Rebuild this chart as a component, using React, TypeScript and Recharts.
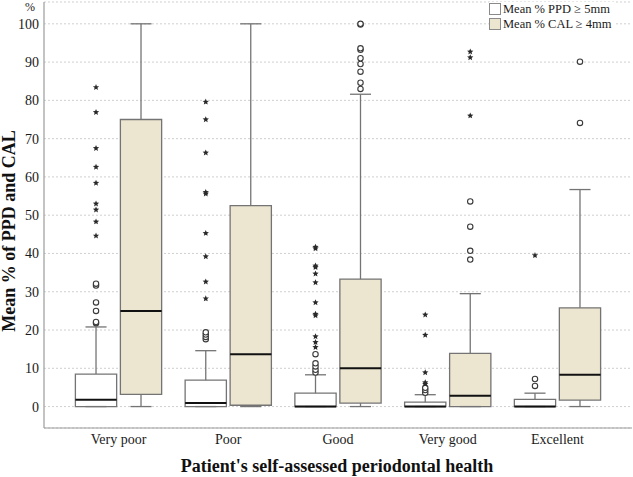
import {
  CartesianGrid,
  ComposedChart,
  ReferenceArea,
  ReferenceLine,
  Scatter,
  XAxis,
  YAxis,
} from "recharts";

const categories = ["Very poor", "Poor", "Good", "Very good", "Excellent"];
const yTicks = [0, 10, 20, 30, 40, 50, 60, 70, 80, 90, 100];

// Mean % PPD >= 5mm
const ppdMin = [0, 0, 0, 0, 0];
const ppdQ1 = [0, 0, 0, 0, 0];
const ppdMedian = [1.75, 0.9, 0, 0, 0];
const ppdQ3 = [8.5, 6.9, 3.5, 1.15, 1.9];
const ppdMax = [20.8, 14.6, 8.3, 3.1, 3.5];
const ppdCircles = [
  [21.8, 22.1, 25.0, 27.2, 31.6, 32.1],
  [17.6, 18.2, 18.8, 19.4],
  [8.9, 9.6, 10.5, 11.3, 13.7],
  [3.6, 4.3, 4.9],
  [5.4, 7.2],
];
const ppdStars = [
  [44.6, 48.3, 51.4, 53.0, 58.4, 62.6, 67.5, 76.9, 83.4],
  [28.2, 32.6, 39.2, 45.3, 55.6, 56.0, 66.3, 75.0, 79.6],
  [15.5, 16.8, 18.3, 23.8, 24.2, 27.2, 32.4, 34.7, 36.4, 36.8, 41.3, 41.7],
  [5.9, 6.3, 8.9, 18.7, 24.0],
  [39.5],
];

// Mean % CAL >= 4mm
const calMin = [0, 0, 0, 0, 0];
const calQ1 = [3.2, 0.35, 0.9, 0, 1.7];
const calMedian = [25.0, 13.7, 10.0, 2.8, 8.3];
const calQ3 = [75.0, 52.5, 33.3, 13.9, 25.8];
const calMax = [100, 100, 81.6, 29.5, 56.7];
const calCircles = [
  [],
  [],
  [83.0, 84.6, 87.5, 89.5, 91.0, 93.2, 93.6, 99.8, 100],
  [38.4, 40.7, 47.0, 53.6],
  [74.1, 90.1],
];
const calStars = [[], [], [], [76.0, 91.2, 92.7], []];

const SERIF = "'Liberation Serif', 'Times New Roman', serif";
const BEIGE = "#ece5cf";
const EDGE = "#747474";
const OFFSET = 0.205;
const HALF = 0.188;
const CAP = 0.096;

type Series = {
  offset: number;
  fill: string;
  min: number[];
  q1: number[];
  median: number[];
  q3: number[];
  max: number[];
};

const series: Series[] = [
  { offset: -OFFSET, fill: "#ffffff", min: ppdMin, q1: ppdQ1, median: ppdMedian, q3: ppdQ3, max: ppdMax },
  { offset: OFFSET, fill: BEIGE, min: calMin, q1: calQ1, median: calMedian, q3: calQ3, max: calMax },
];

const toPoints = (lists: number[][], offset: number) =>
  lists.flatMap((values, i) => values.map((y) => ({ x: i + offset, y })));

const circles = [...toPoints(ppdCircles, -OFFSET), ...toPoints(calCircles, OFFSET)];
const stars = [...toPoints(ppdStars, -OFFSET), ...toPoints(calStars, OFFSET)];

const Circle = (props: any) => (
  <circle cx={props.cx} cy={props.cy} r={2.7} fill="#fff" stroke="#3a3a3a" strokeWidth={1.1} />
);

const Star = (props: any) => {
  const { cx, cy } = props;
  const pts: string[] = [];
  for (let k = 0; k < 10; k++) {
    const r = k % 2 === 0 ? 3.3 : 1.5;
    const a = -Math.PI / 2 + (k * Math.PI) / 5;
    pts.push(`${cx + r * Math.cos(a)},${cy + r * Math.sin(a)}`);
  }
  return <polygon points={pts.join(" ")} fill="#2a2a2a" />;
};

export default function App() {
  return (
    <div style={{ position: "absolute", left: 0, top: 0, width: 633, height: 477, background: "#fff", fontFamily: SERIF }}>
      <ComposedChart width={633} height={477} margin={{ top: 2, right: 1, bottom: 0, left: 0 }}>
        <CartesianGrid vertical={false} stroke="#cfcfcf" strokeDasharray="2 2" />
        <XAxis
          type="number"
          dataKey="x"
          domain={[-0.679, 4.679]}
          allowDataOverflow
          ticks={[0, 1, 2, 3, 4]}
          interval={0}
          tickFormatter={(v) => categories[v]}
          height={49}
          tickLine={false}
          tickSize={0}
          tickMargin={6}
          axisLine={{ stroke: "#9c9c9c", strokeWidth: 1.2 }}
          tick={{ fill: "#1a1a1a", fontSize: 14, fontFamily: SERIF }}
        />
        <YAxis
          type="number"
          dataKey="y"
          domain={[-5.6, 105.7]}
          allowDataOverflow
          ticks={yTicks}
          interval={0}
          width={44}
          tickLine={false}
          tickSize={0}
          tickMargin={5}
          axisLine={{ stroke: "#9c9c9c", strokeWidth: 1.2 }}
          tick={{ fill: "#1a1a1a", fontSize: 14, fontFamily: SERIF }}
        />
        {series.flatMap((s, si) =>
          categories.map((_, i) => {
            const cx = i + s.offset;
            return [
              <ReferenceLine key={`wu${si}${i}`} segment={[{ x: cx, y: s.q3[i] }, { x: cx, y: s.max[i] }]} stroke={EDGE} strokeWidth={1.3} />,
              <ReferenceLine key={`wl${si}${i}`} segment={[{ x: cx, y: s.min[i] }, { x: cx, y: s.q1[i] }]} stroke={EDGE} strokeWidth={1.3} />,
              <ReferenceLine key={`cu${si}${i}`} segment={[{ x: cx - CAP, y: s.max[i] }, { x: cx + CAP, y: s.max[i] }]} stroke={EDGE} strokeWidth={1.3} />,
              <ReferenceLine key={`cl${si}${i}`} segment={[{ x: cx - CAP, y: s.min[i] }, { x: cx + CAP, y: s.min[i] }]} stroke={EDGE} strokeWidth={1.3} />,
              <ReferenceArea
                key={`b${si}${i}`}
                x1={cx - HALF}
                x2={cx + HALF}
                y1={s.q1[i]}
                y2={s.q3[i]}
                fill={s.fill}
                fillOpacity={1}
                stroke={EDGE}
                strokeWidth={1.3}
              />,
              <ReferenceLine key={`m${si}${i}`} segment={[{ x: cx - HALF, y: s.median[i] }, { x: cx + HALF, y: s.median[i] }]} stroke="#111" strokeWidth={2} />,
            ];
          })
        )}
        <Scatter data={circles} shape={Circle} isAnimationActive={false} />
        <Scatter data={stars} shape={Star} isAnimationActive={false} />
      </ComposedChart>

      <div style={{ position: "absolute", left: 25, top: 1, fontSize: 12, lineHeight: "12px", color: "#1a1a1a" }}>%</div>

      <div
        style={{
          position: "absolute",
          left: 9,
          top: 231,
          transform: "translate(-50%, -50%) rotate(-90deg)",
          whiteSpace: "nowrap",
          fontSize: 18,
          fontWeight: "bold",
          color: "#111",
        }}
      >
        Mean % of PPD and CAL
      </div>

      <div
        style={{
          position: "absolute",
          left: 337,
          top: 466,
          transform: "translate(-50%, -50%)",
          whiteSpace: "nowrap",
          fontSize: 18,
          fontWeight: "bold",
          color: "#111",
        }}
      >
        Patient's self-assessed periodontal health
      </div>

      <div style={{ position: "absolute", left: 489, top: 2, background: "#fff", padding: "0 4px 0 0", fontSize: 12.5, color: "#1a1a1a", lineHeight: "14.5px" }}>
        {[
          { label: "Mean % PPD ≥ 5mm", fill: "#ffffff" },
          { label: "Mean % CAL ≥ 4mm", fill: BEIGE },
        ].map((e) => (
          <div key={e.label} style={{ display: "flex", alignItems: "center" }}>
            <span style={{ display: "inline-block", width: 10, height: 10, background: e.fill, border: "1px solid #8a8a8a", marginRight: 2 }} />
            <span>{e.label}</span>
          </div>
        ))}
      </div>
    </div>
  );
}
